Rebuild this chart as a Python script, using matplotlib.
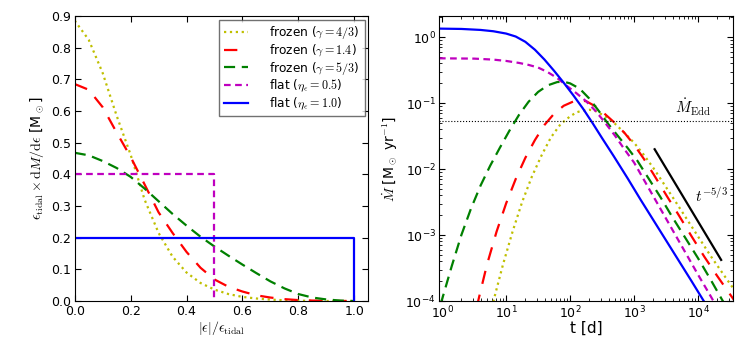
import numpy as np
from matplotlib import pyplot as plt

plt.rcParams['mathtext.fontset'] = 'cm'
plt.rcParams['font.family'] = 'DejaVu Sans'

# ---- left panel: energy distributions ----
eps = [0.0, 0.05, 0.1, 0.15, 0.2, 0.25, 0.3, 0.35, 0.4, 0.45, 0.5,
       0.55, 0.6, 0.65, 0.7, 0.75, 0.8, 0.85, 0.9, 0.95, 1.0]
dm_g43 = [0.885, 0.825, 0.72, 0.585, 0.462, 0.32, 0.215, 0.14, 0.09, 0.057, 0.036,
          0.022, 0.013, 0.008, 0.0045, 0.0025, 0.0012, 0.0005, 0.0002, 0.0001, 0.0]
dm_g14 = [0.685, 0.667, 0.612, 0.532, 0.455, 0.368, 0.28, 0.215, 0.155, 0.105, 0.068,
          0.045, 0.03, 0.018, 0.011, 0.006, 0.003, 0.0015, 0.0007, 0.0002, 0.0]
dm_g53 = [0.468, 0.46, 0.442, 0.42, 0.392, 0.355, 0.315, 0.275, 0.238, 0.203, 0.172,
          0.143, 0.115, 0.088, 0.062, 0.04, 0.022, 0.011, 0.005, 0.0015, 0.0]
eps_flat05 = [0.0, 0.5, 0.5]
dm_flat05 = [0.4, 0.4, 0.0]
eps_flat10 = [0.0, 1.0, 1.0]
dm_flat10 = [0.2, 0.2, 0.0]

# ---- right panel: fallback rates (log10 t [d], log10 Mdot [Msun/yr]) ----
lt_g43 = [0.78, 0.81, 0.95, 1.1, 1.25, 1.4, 1.55, 1.7, 1.85, 2.0, 2.1, 2.2, 2.3, 2.4,
          2.55, 2.7, 2.85, 3.0, 3.15, 3.3, 3.45, 3.62, 3.8, 4.0, 4.2, 4.4, 4.56]
lm_g43 = [-4.1, -3.97, -3.45, -2.95, -2.5, -2.12, -1.8, -1.52, -1.32, -1.2, -1.14, -1.11,
          -1.10, -1.12, -1.2, -1.31, -1.45, -1.6, -1.78, -1.98, -2.2, -2.45, -2.72, -3.02,
          -3.32, -3.6, -3.82]
lt_g14 = [0.54, 0.57, 0.7, 0.85, 1.0, 1.15, 1.3, 1.45, 1.6, 1.75, 1.9, 2.05, 2.15, 2.25,
          2.4, 2.55, 2.7, 2.85, 3.0, 3.15, 3.3, 3.52, 3.7, 3.9, 4.1, 4.3, 4.56]
lm_g14 = [-4.1, -3.97, -3.45, -2.95, -2.52, -2.15, -1.83, -1.56, -1.33, -1.16, -1.04,
          -0.975, -0.96, -0.97, -1.05, -1.17, -1.3, -1.45, -1.63, -1.84, -2.07, -2.42,
          -2.7, -3.02, -3.33, -3.62, -3.98]
lt_g53 = [-0.03, 0.0, 0.15, 0.3, 0.45, 0.6, 0.75, 0.9, 1.05, 1.2, 1.35, 1.5, 1.65, 1.8,
          1.9, 2.0, 2.15, 2.3, 2.45, 2.6, 2.75, 2.9, 3.05, 3.2, 3.41, 3.6, 3.8, 4.0, 4.2,
          4.37, 4.45]
lm_g53 = [-4.05, -3.97, -3.47, -3.0, -2.6, -2.25, -1.95, -1.68, -1.42, -1.18, -0.98,
          -0.83, -0.73, -0.68, -0.675, -0.70, -0.78, -0.93, -1.12, -1.32, -1.5, -1.68,
          -1.87, -2.1, -2.42, -2.73, -3.04, -3.35, -3.68, -3.97, -4.1]
lt_f05 = [-0.05, 0.5, 0.8, 1.0, 1.2, 1.35, 1.5, 1.65, 1.8, 1.95, 2.1, 2.25, 2.4, 2.55,
          2.7, 2.85, 3.0, 3.2, 3.4, 3.6, 3.8, 4.0, 4.2, 4.3]
lm_f05 = [-0.32, -0.325, -0.34, -0.36, -0.39, -0.42, -0.46, -0.53, -0.62, -0.74, -0.85,
          -0.97, -1.12, -1.3, -1.49, -1.7, -1.9, -2.24, -2.58, -2.92, -3.26, -3.6, -3.93,
          -4.1]
lt_f10 = [-0.05, 0.3, 0.6, 0.8, 1.0, 1.15, 1.3, 1.45, 1.6, 1.75, 1.9, 2.05, 2.2, 2.35,
          2.5, 2.68, 2.9, 3.1, 3.3, 3.5, 3.7, 3.9, 4.09, 4.2]
lm_f10 = [0.13, 0.125, 0.11, 0.09, 0.055, 0.01, -0.07, -0.19, -0.34, -0.51, -0.69,
          -0.88, -1.08, -1.3, -1.53, -1.8, -2.14, -2.46, -2.77, -3.08, -3.39, -3.7, -4.0,
          -4.17]
mdot_edd = 0.053
t_slope = [2.1e3, 2.3e4]
m_slope = [0.02, 4.2e-4]

fig = plt.figure(figsize=(7.47, 3.39), dpi=100)
ax1 = fig.add_axes([0.100, 0.112, 0.393, 0.841])
ax2 = fig.add_axes([0.588, 0.112, 0.393, 0.841])

ax1.plot(eps, dm_g43, ':', color='#bfbf00', lw=1.6, label=r'frozen ($\gamma=4/3$)')
ax1.plot(eps, dm_g14, '--', color='r', lw=1.6, dashes=(6, 5), label=r'frozen ($\gamma=1.4$)')
ax1.plot(eps, dm_g53, '--', color='#008000', lw=1.6, dashes=(5, 3), label=r'frozen ($\gamma=5/3$)')
ax1.plot(eps_flat05, dm_flat05, '--', color='#bf00bf', lw=1.6, dashes=(3, 2), label=r'flat ($\eta_\epsilon=0.5$)')
ax1.plot(eps_flat10, dm_flat10, '-', color='b', lw=1.6, label=r'flat ($\eta_\epsilon=1.0$)')
ax1.set_xlim(0, 1.05)
ax1.set_ylim(0, 0.9)
ax1.set_xticks([0.0, 0.2, 0.4, 0.6, 0.8, 1.0])
ax1.set_yticks(np.arange(0, 0.91, 0.1))
ax1.set_xlabel(r'$|\epsilon|/\epsilon_{\rm tidal}$', fontsize=10, labelpad=1)
ax1.set_ylabel(r'$\epsilon_{\rm tidal}\times{\rm d}M/{\rm d}\epsilon$ [M$_\odot$]', fontsize=10)
leg = ax1.legend(loc='upper right', fontsize=8.7, handlelength=2.0, handletextpad=1.8,
                 labelspacing=0.1, fancybox=False, borderaxespad=0.3, borderpad=0.4)
leg.get_frame().set_edgecolor('0.3')

ax2.plot(10 ** np.array(lt_g43), 10 ** np.array(lm_g43), ':', color='#bfbf00', lw=1.6)
ax2.plot(10 ** np.array(lt_g14), 10 ** np.array(lm_g14), '--', color='r', lw=1.6, dashes=(6, 5))
ax2.plot(10 ** np.array(lt_g53), 10 ** np.array(lm_g53), '--', color='#008000', lw=1.6, dashes=(5, 3))
ax2.plot(10 ** np.array(lt_f05), 10 ** np.array(lm_f05), '--', color='#bf00bf', lw=1.6, dashes=(3, 2))
ax2.plot(10 ** np.array(lt_f10), 10 ** np.array(lm_f10), '-', color='b', lw=1.6)
ax2.axhline(mdot_edd, color='k', ls=':', lw=0.8)
ax2.plot(t_slope, m_slope, '-', color='k', lw=1.6)
ax2.text(4.3e3, mdot_edd * 1.12, r'$\dot{M}_{\rm Edd}$', fontsize=11, ha='left', va='bottom')
ax2.text(9.0e3, 3.9e-3, r'$t^{-5/3}$', fontsize=11, ha='left', va='center')
ax2.set_xscale('log')
ax2.set_yscale('log')
ax2.set_xlim(0.9, 3.5e4)
ax2.set_ylim(1e-4, 2.1)
ax2.set_xlabel('t [d]', fontsize=11, labelpad=0)
ax2.set_ylabel(r'$\dot{M}$ [M$_\odot$ yr$^{-1}$]', fontsize=10)

for ax in (ax1, ax2):
    ax.tick_params(which='both', direction='in', top=True, right=True, labelsize=9, pad=2.5)
    ax.tick_params(which='major', length=4)
    ax.tick_params(which='minor', length=2)

fig.savefig('out.png', dpi=100)
